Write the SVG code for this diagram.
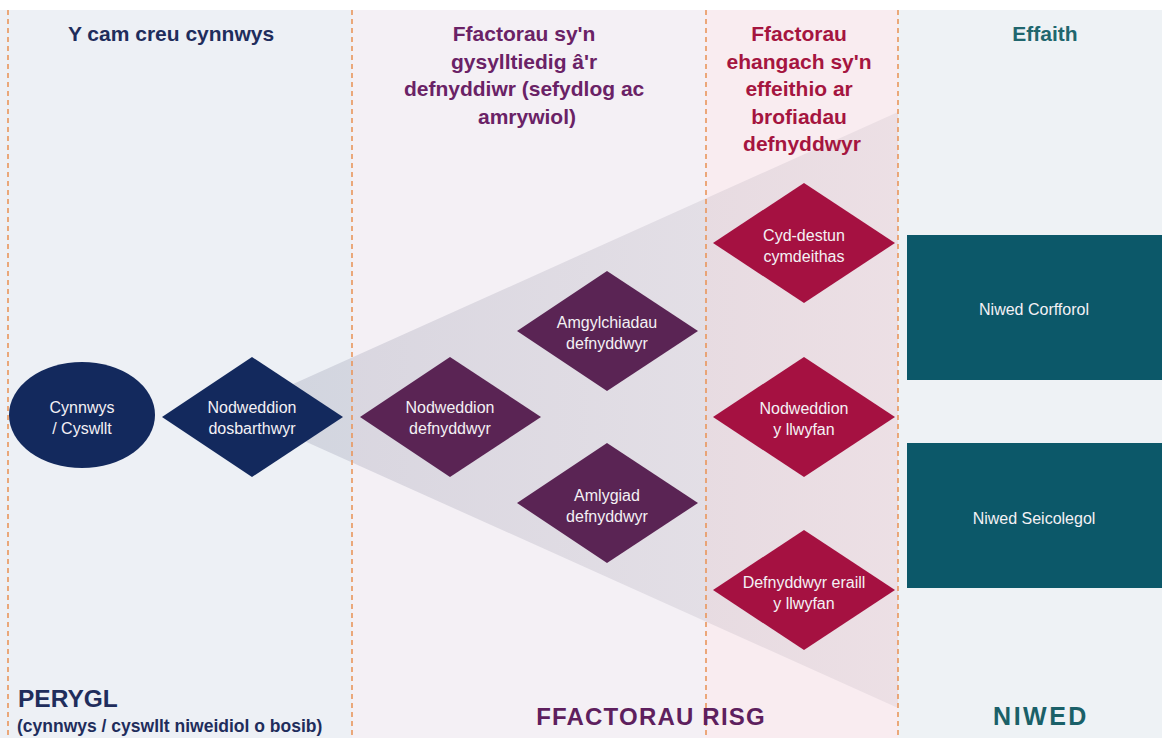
<svg xmlns="http://www.w3.org/2000/svg" width="1162" height="738" viewBox="0 0 1162 738">
  <defs>
    <linearGradient id="funnel" x1="260" y1="0" x2="898" y2="0" gradientUnits="userSpaceOnUse">
      <stop offset="0" stop-color="#6f7390" stop-opacity="0.22"/>
      <stop offset="1" stop-color="#7a6f80" stop-opacity="0.10"/>
    </linearGradient>
    <style>
      .hdr { font-family: "Liberation Sans", Arial, sans-serif; font-weight: bold; font-size: 21px; text-anchor: middle; }
      .lbl { font-family: "Liberation Sans", Arial, sans-serif; font-weight: bold; text-anchor: middle; }
      .lft { text-anchor: start; }
      .nt { font-family: "Liberation Sans", Arial, sans-serif; font-size: 16px; fill: #f4f1f5; text-anchor: middle; }
      .div { stroke: #e9965c; stroke-width: 1.6; stroke-dasharray: 5 4; fill: none; }
      .navy { fill: #13295d; }
      .purple { fill: #5a2454; }
      .red { fill: #a51141; }
      .teal { fill: #0c5869; }
    </style>
  </defs>

  <g id="background">
    <rect x="0" y="0" width="1162" height="738" fill="#ffffff"/>
    <rect x="0" y="10" width="352" height="728" fill="#edf0f5"/>
    <rect x="352" y="10" width="354" height="728" fill="#f4f0f5"/>
    <rect x="706" y="10" width="192" height="728" fill="#f9ecf0"/>
    <rect x="898" y="10" width="264" height="728" fill="#eef2f5"/>
    <polygon points="262,398 898,112 898,708 262,422" fill="url(#funnel)"/>
    <line class="div" x1="8" y1="10" x2="8" y2="738"/>
    <line class="div" x1="352" y1="10" x2="352" y2="738"/>
    <line class="div" x1="706" y1="10" x2="706" y2="738"/>
    <line class="div" x1="898" y1="10" x2="898" y2="738"/>
  </g>

  <g id="headers">
    <text class="hdr" x="171" y="41" fill="#1f2d5c">Y cam creu cynnwys</text>
    <text class="hdr" x="527" fill="#6a2266">
      <tspan x="527" y="41">Ffactorau sy'n</tspan>
      <tspan x="527" y="68.5">gysylltiedig â'r</tspan>
      <tspan x="527" y="96">defnyddiwr (sefydlog ac</tspan>
      <tspan x="527" y="123.5">amrywiol)</tspan>
    </text>
    <text class="hdr" x="802" fill="#a5153f">
      <tspan x="802" y="41">Ffactorau</tspan>
      <tspan x="802" y="68.5">ehangach sy'n</tspan>
      <tspan x="802" y="96">effeithio ar</tspan>
      <tspan x="802" y="123.5">brofiadau</tspan>
      <tspan x="802" y="151">defnyddwyr</tspan>
    </text>
    <text class="hdr" x="1045" y="41" fill="#20666e">Effaith</text>
  </g>

  <g id="footers">
    <text class="lbl lft" x="18" y="707" font-size="24.5" fill="#1f2d5c">PERYGL</text>
    <text class="lbl lft" x="17" y="732" font-size="17.5" fill="#1f2d5c">(cynnwys / cyswllt niweidiol o bosib)</text>
    <text class="lbl" x="651" y="725" font-size="24" letter-spacing="1.2" fill="#5e1f5e">FFACTORAU RISG</text>
    <text class="lbl" x="1041" y="725" font-size="25" letter-spacing="2.5" fill="#1a6068">NIWED</text>
  </g>

  <g id="connectors"></g>

  <g id="node-cynnwys">
    <ellipse class="navy" cx="82" cy="415" rx="73" ry="53"/>
    <text class="nt"><tspan x="82" y="413">Cynnwys</tspan><tspan x="82" y="434">/ Cyswllt</tspan></text>
  </g>
  <g id="node-dosbarthwyr">
    <polygon class="navy" points="252,357 343,417 252,477 162,417"/>
    <text class="nt"><tspan x="252" y="413">Nodweddion</tspan><tspan x="252" y="434">dosbarthwyr</tspan></text>
  </g>

  <g id="node-nodweddion-defnyddwyr">
    <polygon class="purple" points="450,357 541,417 450,477 360,417"/>
    <text class="nt"><tspan x="450" y="413">Nodweddion</tspan><tspan x="450" y="434">defnyddwyr</tspan></text>
  </g>
  <g id="node-amgylchiadau">
    <polygon class="purple" points="607,271 698,331 607,391 517,331"/>
    <text class="nt"><tspan x="607" y="328">Amgylchiadau</tspan><tspan x="607" y="349">defnyddwyr</tspan></text>
  </g>
  <g id="node-amlygiad">
    <polygon class="purple" points="607,443 698,503 607,563 517,503"/>
    <text class="nt"><tspan x="607" y="501">Amlygiad</tspan><tspan x="607" y="522">defnyddwyr</tspan></text>
  </g>

  <g id="node-cyd-destun">
    <polygon class="red" points="804,183 895,243 804,303 713,243"/>
    <text class="nt"><tspan x="804" y="241">Cyd-destun</tspan><tspan x="804" y="262">cymdeithas</tspan></text>
  </g>
  <g id="node-nodweddion-llwyfan">
    <polygon class="red" points="804,357 895,417 804,477 713,417"/>
    <text class="nt"><tspan x="804" y="414">Nodweddion</tspan><tspan x="804" y="435">y llwyfan</tspan></text>
  </g>
  <g id="node-defnyddwyr-eraill">
    <polygon class="red" points="804,530 895,590 804,650 713,590"/>
    <text class="nt"><tspan x="804" y="588">Defnyddwyr eraill</tspan><tspan x="804" y="609">y llwyfan</tspan></text>
  </g>

  <g id="node-niwed-corfforol">
    <rect class="teal" x="907" y="235" width="255" height="145"/>
    <text class="nt" x="1034" y="315">Niwed Corfforol</text>
  </g>
  <g id="node-niwed-seicolegol">
    <rect class="teal" x="907" y="443" width="255" height="145"/>
    <text class="nt" x="1034" y="524">Niwed Seicolegol</text>
  </g>
</svg>
